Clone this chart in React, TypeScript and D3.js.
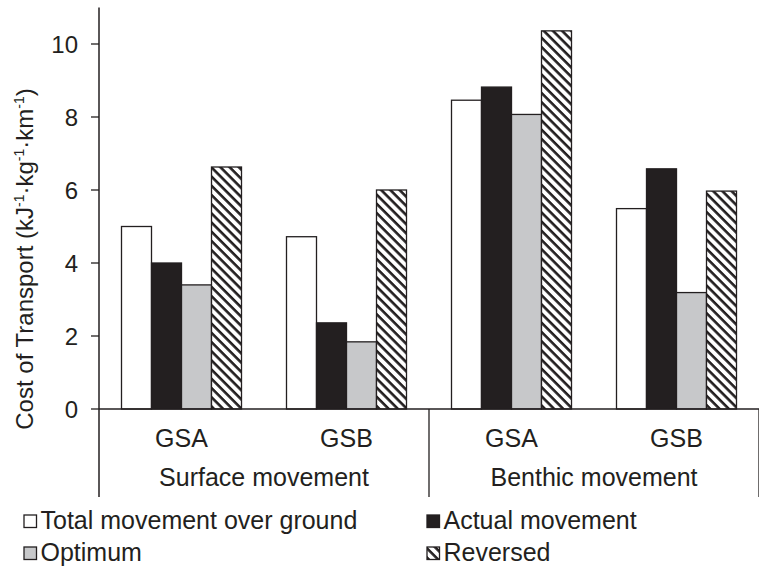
import React from 'react';
import * as d3 from 'd3';

const groups = ['Surface movement', 'Benthic movement'];
const sites = ['GSA', 'GSB'];
const seriesNames = ['Total movement over ground', 'Actual movement', 'Optimum', 'Reversed'];

// one value per category: Surface GSA, Surface GSB, Benthic GSA, Benthic GSB
const totalMovement = [5.0, 4.72, 8.46, 5.49];
const actualMovement = [4.0, 2.36, 8.82, 6.58];
const optimum = [3.4, 1.84, 8.07, 3.19];
const reversed = [6.63, 6.0, 10.36, 5.97];

const yTicks = [0, 2, 4, 6, 8, 10];

const width = 759,
      height = 567,
      left = 99,
      right = 759,
      zeroY = 409,
      font = 'Liberation Sans, Arial, sans-serif';

const fills = ['#ffffff', '#231f20', '#c7c8ca', 'url(#hatch)'];

export default function App() {
  const values = [totalMovement, actualMovement, optimum, reversed];
  const cats = groups.flatMap(g => sites.map(s => `${g}|${s}`));

  const x0 = d3.scaleBand().domain(cats).range([left, right]).padding(0);
  const x1 = d3.scaleBand().domain(seriesNames)
               .range([0, x0.bandwidth()])
               .paddingInner(0)
               .paddingOuter(0.75);
  const y = d3.scaleLinear().domain([0, 11]).range([zeroY, zeroY - 11 * 36.5]);
  const bottom = 497;

  const groupX = d3.scaleBand().domain(groups).range([left, right]);

  return (
    <svg width={width} height={height}
         style={{position: 'absolute', left: 0, top: 0, background: '#fff'}}
         fontFamily={font}>
      <defs>
        <pattern id="hatch" patternUnits="userSpaceOnUse" width={6.5} height={6.5}
                 patternTransform="rotate(45)">
          <rect width={6.5} height={6.5} fill="#fff" />
          <rect width={6.5} height={2.6} fill="#231f20" />
        </pattern>
      </defs>

      {/* bars */}
      {cats.map((c, ci) =>
        seriesNames.map((s, si) => {
          const v = values[si][ci];
          return <rect key={`${c}-${s}`}
                       x={x0(c) + x1(s)} y={y(v)}
                       width={x1.bandwidth()} height={zeroY - y(v)}
                       fill={fills[si]} stroke="#231f20" strokeWidth={1.3} />;
        })
      )}

      {/* y axis */}
      <line x1={left} x2={left} y1={y(11)} y2={bottom} stroke="#231f20" strokeWidth={1.5} />
      {yTicks.map(t =>
        <g key={t}>
          <line x1={left - 8} x2={left} y1={y(t)} y2={y(t)} stroke="#231f20" strokeWidth={1.3} />
          <text x={78} y={y(t)} dy="0.36em" textAnchor="end" fontSize={24} fill="#231f20">{t}</text>
        </g>
      )}

      {/* x axis and separators */}
      <line x1={left} x2={right} y1={zeroY} y2={zeroY} stroke="#231f20" strokeWidth={1.3} />
      {groups.map(g =>
        <line key={g} x1={groupX(g) + groupX.bandwidth()} x2={groupX(g) + groupX.bandwidth()}
              y1={zeroY} y2={bottom} stroke="#231f20" strokeWidth={1.3} />
      )}
      {cats.map(c =>
        <text key={c} x={x0(c) + x0.bandwidth() / 2} y={447} textAnchor="middle"
              fontSize={25} fill="#231f20">{c.split('|')[1]}</text>
      )}
      {groups.map(g =>
        <text key={g} x={groupX(g) + groupX.bandwidth() / 2} y={486} textAnchor="middle"
              fontSize={25} fill="#231f20">{g}</text>
      )}

      {/* y label */}
      <text transform={`translate(33,${259}) rotate(-90)`} textAnchor="middle"
            fontSize={24} fill="#231f20">
        Cost of Transport (kJ<tspan fontSize={14} dy={-9}>-1</tspan>
        <tspan dy={9}>·kg</tspan><tspan fontSize={14} dy={-9}>-1</tspan>
        <tspan dy={9}>·km</tspan><tspan fontSize={14} dy={-9}>-1</tspan>
        <tspan dy={9}>)</tspan>
      </text>

      {/* legend */}
      {seriesNames.map((s, i) => {
        const lx = i % 2 === 0 ? 24 : 427;
        const ly = i < 2 ? 515 : 547;
        return (
          <g key={s}>
            <rect x={lx} y={ly} width={12.5} height={12.5} fill={fills[i]}
                  stroke="#231f20" strokeWidth={1.3} />
            <text x={lx + 16.5} y={ly + 13.5} fontSize={25} fill="#231f20">{s}</text>
          </g>
        );
      })}
    </svg>
  );
}
